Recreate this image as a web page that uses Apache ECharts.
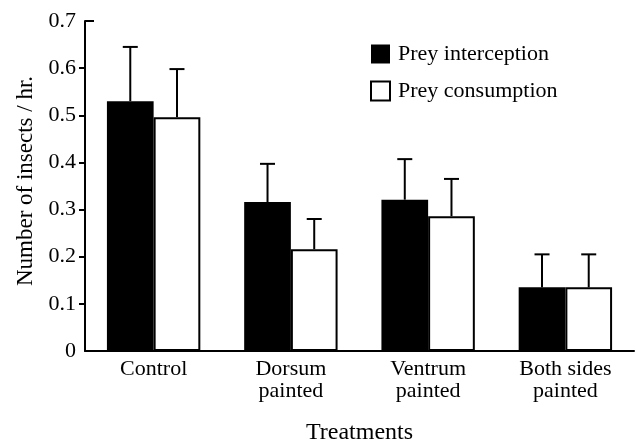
<!DOCTYPE html>
<html>
<head>
<meta charset="utf-8">
<script src="https://cdn.jsdelivr.net/npm/echarts@6/dist/echarts.min.js"></script>
<style>
  html, body { margin: 0; padding: 0; background: #fff; }
  #chart { width: 636px; height: 442px; }
</style>
</head>
<body>
<div id="chart"></div>
<script>
// Treatments on the x axis
const treatments = ['Control', 'Dorsum\npainted', 'Ventrum\npainted', 'Both sides\npainted'];

// Mean number of insects per hour and the standard error for each treatment
const interception = [0.53, 0.316, 0.321, 0.135];
const interceptionErr = [0.115, 0.081, 0.086, 0.07];
const consumption = [0.496, 0.216, 0.286, 0.135];
const consumptionErr = [0.102, 0.064, 0.079, 0.07];

// y-axis range and step
const yMin = 0;
const yMax = 0.7;
const yStep = 0.1;
const yTicksOutside = [0.1, 0.2, 0.3, 0.4, 0.5, 0.6];
const yTicksInside = [0.7];

const FONT = '"Liberation Serif", "Times New Roman", serif';
const BAR_WIDTH = 46.7;
const CAP_WIDTH = 15;

// Upward-only error bars drawn at the centre of each bar
function errorBars(values, errs, side) {
  return {
    type: 'custom',
    silent: true,
    z: 5,
    data: values.map((v, i) => [i, v, v + errs[i]]),
    encode: { x: 0, y: [1, 2] },
    renderItem: function (params, api) {
      const i = api.value(0);
      const base = api.coord([i, api.value(1)]);
      const top = api.coord([i, api.value(2)]);
      const x = base[0] + side * BAR_WIDTH / 2;
      const stroke = { stroke: '#000', lineWidth: 2 };
      return {
        type: 'group',
        children: [
          { type: 'line', shape: { x1: x, y1: base[1], x2: x, y2: top[1] }, style: stroke },
          { type: 'line', shape: { x1: x - CAP_WIDTH / 2, y1: top[1], x2: x + CAP_WIDTH / 2, y2: top[1] }, style: stroke }
        ]
      };
    }
  };
}

const chart = echarts.init(document.getElementById('chart'), null, { renderer: 'canvas' });

chart.setOption({
  backgroundColor: '#fff',
  animation: false,
  textStyle: { fontFamily: FONT, color: '#000' },
  grid: { left: 85, right: 2, top: 21, bottom: 91, containLabel: false, outerBoundsMode: 'none' },
  legend: {
    data: ['Prey interception', 'Prey consumption'],
    orient: 'vertical',
    left: 365,
    top: 38,
    itemWidth: 19,
    itemHeight: 19,
    itemGap: 15,
    icon: 'rect',
    selectedMode: false,
    textStyle: { fontFamily: FONT, fontSize: 22, color: '#000', padding: [0, 0, 0, 3] }
  },
  xAxis: {
    type: 'category',
    data: treatments,
    name: 'Treatments',
    nameLocation: 'middle',
    nameGap: 70,
    nameTextStyle: { fontFamily: FONT, fontSize: 24, color: '#000' },
    axisLine: { show: true, lineStyle: { color: '#000', width: 2 } },
    axisTick: { show: false },
    axisLabel: { fontFamily: FONT, fontSize: 22, lineHeight: 22, color: '#000', margin: 7, interval: 0 },
    splitLine: { show: false }
  },
  yAxis: [
    {
      type: 'value',
      min: yMin,
      max: yMax,
      interval: yStep,
      name: 'Number of insects / hr.',
      nameLocation: 'middle',
      nameGap: 47,
      nameRotate: 90,
      nameTextStyle: { fontFamily: FONT, fontSize: 23, color: '#000', padding: [0, 0, 0, 10] },
      axisLine: { show: true, lineStyle: { color: '#000', width: 2 } },
      axisTick: { show: true, inside: false, length: 6, lineStyle: { color: '#000', width: 2 }, customValues: yTicksOutside },
      axisLabel: { fontFamily: FONT, fontSize: 22, color: '#000', margin: 9 },
      splitLine: { show: false }
    },
    {
      type: 'value',
      min: yMin,
      max: yMax,
      interval: yStep,
      position: 'left',
      axisLine: { show: false },
      axisTick: { show: true, inside: true, length: 9, lineStyle: { color: '#000', width: 2 }, customValues: yTicksInside },
      axisLabel: { show: false },
      splitLine: { show: false }
    }
  ],
  series: [
    {
      name: 'Prey interception',
      type: 'bar',
      data: interception,
      barWidth: BAR_WIDTH,
      barGap: '0%',
      itemStyle: { color: '#000', borderColor: '#000', borderWidth: 0 }
    },
    {
      name: 'Prey consumption',
      type: 'bar',
      data: consumption,
      barWidth: BAR_WIDTH,
      barGap: '0%',
      itemStyle: { color: '#fff', borderColor: '#000', borderWidth: 2 }
    },
    errorBars(interception, interceptionErr, -1),
    errorBars(consumption, consumptionErr, 1)
  ]
});
</script>
</body>
</html>
